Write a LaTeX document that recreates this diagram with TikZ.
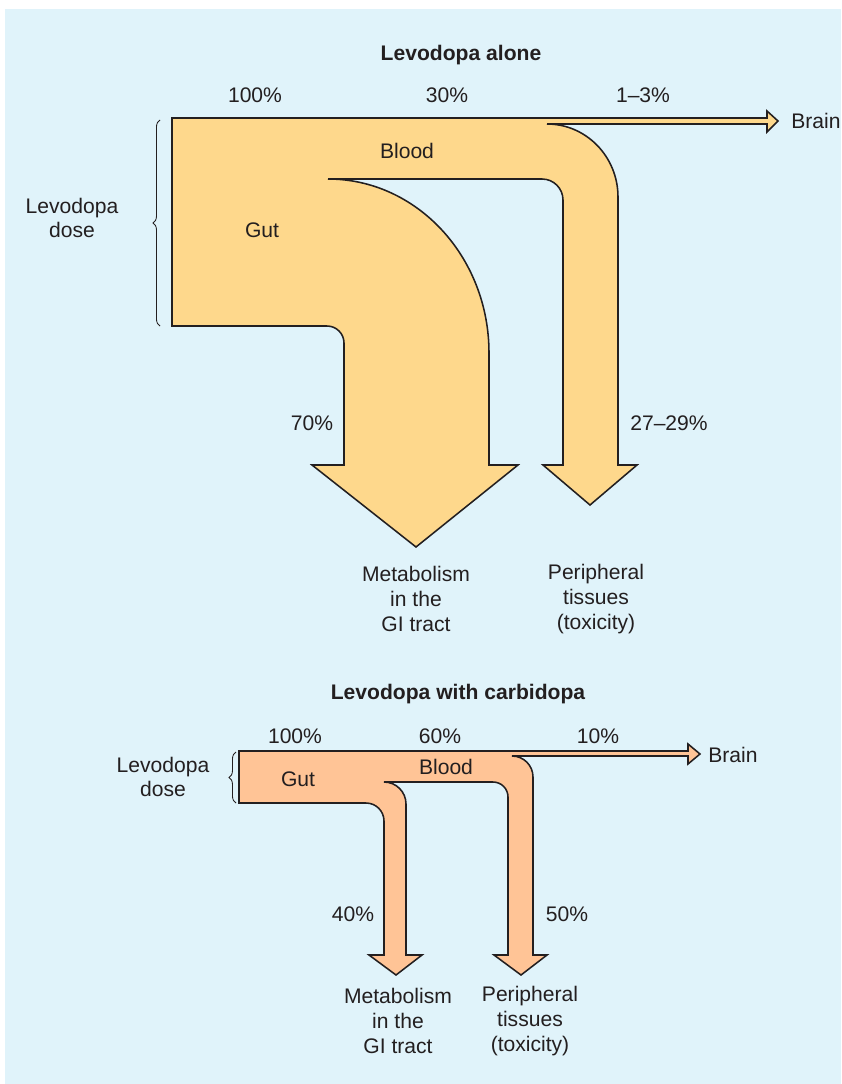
\documentclass[tikz,border=0pt]{standalone}
\usepackage{fontspec}
\setmainfont{Liberation Sans}
\usetikzlibrary{decorations.pathreplacing}
\definecolor{bgblue}{RGB}{224,243,250}
\definecolor{flowyel}{RGB}{254,216,140}
\definecolor{flowpch}{RGB}{255,196,150}
\definecolor{inkgray}{RGB}{35,31,32}
\tikzset{
  flow/.style={draw=inkgray, line width=1.1pt, line join=miter},
  lbl/.style={font=\fontsize{15}{17.5}\selectfont, text=inkgray, align=center, inner sep=0pt},
  ttl/.style={font=\fontsize{15}{17.5}\selectfont\bfseries, text=inkgray, inner sep=0pt},
  dosebrace/.style={draw=inkgray, line width=0.6pt, decorate, decoration={brace, amplitude=5pt}},
  }

\begin{document}
\begin{tikzpicture}[x=0.025cm, y=0.025cm]
  \useasboundingbox (0,0) rectangle (841,-1084);
  \fill[bgblue] (5,-9) rectangle (841,-1084);

  % levodopa alone
  \filldraw[flow, fill=flowyel]
    (172,-118) -- (767,-118) -- (767,-111) -- (778,-121) -- (767,-132) -- (767,-124)
    -- (547,-124) arc[start angle=90, end angle=0, x radius=71, y radius=73]
    -- (618,-465) -- (637,-465) -- (590,-505) -- (543,-465) -- (563,-465)
    -- (563,-200) arc[start angle=0, end angle=90, radius=21]
    -- (328,-179) arc[start angle=90, end angle=0, x radius=161, y radius=174]
    -- (489,-465) -- (518,-465) -- (416,-547) -- (312,-465) -- (344,-465)
    -- (344,-343) arc[start angle=0, end angle=90, radius=17]
    -- (172,-326) -- cycle;
  \draw[dosebrace] (160,-326) -- (160,-120);

  \node[ttl] (ttlA)   at (461,-55)  {Levodopa alone};
  \node[lbl] (pctA1)  at (255,-95)  {100\%};
  \node[lbl] (pctA2)  at (447,-95)  {30\%};
  \node[lbl] (pctA3)  at (643,-95)  {1--3\%};
  \node[lbl,anchor=west] (brainA) at (791,-121) {Brain};
  \node[lbl] (bloodA) at (407,-151) {Blood};
  \node[lbl] (gutA)   at (262,-230) {Gut};
  \node[lbl] (doseA)  at (72,-218)  {Levodopa\\dose};
  \node[lbl] (pctA4)  at (312,-423) {70\%};
  \node[lbl] (pctA5)  at (669,-423) {27--29\%};
  \node[lbl] (metA)   at (416,-599) {Metabolism\\in the\\GI tract};
  \node[lbl] (perA)   at (596,-599) {Peripheral\\tissues\\(toxicity)};

  % levodopa with carbidopa
  \filldraw[flow, fill=flowpch]
    (239,-751) -- (688,-751) -- (688,-744) -- (700,-754) -- (688,-764) -- (688,-756)
    -- (512,-756) arc[start angle=90, end angle=0, radius=21]
    -- (533,-955) -- (547,-955) -- (521,-975) -- (494,-955) -- (508,-955)
    -- (508,-797) arc[start angle=0, end angle=90, radius=15]
    -- (384,-782) arc[start angle=90, end angle=0, radius=22]
    -- (406,-955) -- (422,-955) -- (396,-975) -- (369,-955) -- (384,-955)
    -- (384,-821) arc[start angle=0, end angle=90, radius=18]
    -- (239,-803) -- cycle;
  \draw[dosebrace] (236,-803) -- (236,-752);

  \node[ttl] (ttlB)   at (458,-694) {Levodopa with carbidopa};
  \node[lbl] (pctB1)  at (295,-736) {100\%};
  \node[lbl] (pctB2)  at (440,-736) {60\%};
  \node[lbl] (pctB3)  at (598,-736) {10\%};
  \node[lbl,anchor=west] (brainB) at (708,-755) {Brain};
  \node[lbl] (gutB)   at (298,-779) {Gut};
  \node[lbl] (bloodB) at (446,-767) {Blood};
  \node[lbl] (doseB)  at (163,-777) {Levodopa\\dose};
  \node[lbl] (pctB4)  at (353,-914) {40\%};
  \node[lbl] (pctB5)  at (567,-914) {50\%};
  \node[lbl] (metB)   at (398,-1021) {Metabolism\\in the\\GI tract};
  \node[lbl] (perB)   at (530,-1021) {Peripheral\\tissues\\(toxicity)};
\end{tikzpicture}
\end{document}
